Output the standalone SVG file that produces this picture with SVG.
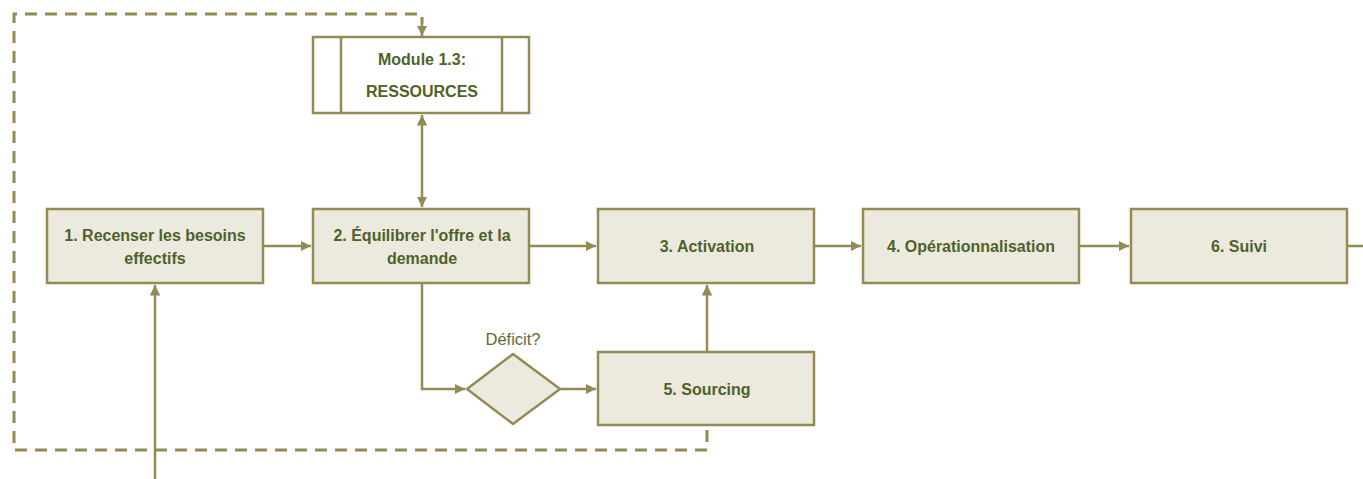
<svg xmlns="http://www.w3.org/2000/svg" width="1363" height="479" viewBox="0 0 1363 479">
  <style>
    .box { fill: #ECE9DF; stroke: #948A54; stroke-width: 2.5; }
    .plain { fill: #FFFFFF; stroke: #948A54; stroke-width: 2.5; }
    .lbl { font-family: "Liberation Sans", Arial, sans-serif; font-weight: bold; font-size: 16px; fill: #4F6228; text-anchor: middle; }
    .note { font-family: "Liberation Sans", Arial, sans-serif; font-size: 16.5px; fill: #5E6B3C; text-anchor: middle; }
    .conn { fill: none; stroke: #948A54; stroke-width: 2.5; }
    .dash { fill: none; stroke: #948A54; stroke-width: 3; stroke-dasharray: 12 8; }
  </style>
  <defs>
    <marker id="arr" viewBox="0 0 10 10" refX="10" refY="5" markerWidth="4.2" markerHeight="4.2" orient="auto-start-reverse" markerUnits="strokeWidth">
      <path d="M0,0 L10,5 L0,10 z" fill="#948A54"/>
    </marker>
  </defs>
  <rect width="1363" height="479" fill="#FFFFFF"/>

  <g id="connectors">
    <path class="dash" d="M707,430 V450 H14 V14 H422 V24"/>
    <path class="conn" d="M422,24 V36" marker-end="url(#arr)"/>
    <path class="conn" d="M422,115 V207" marker-start="url(#arr)" marker-end="url(#arr)"/>
    <path class="conn" d="M263,246 H311" marker-end="url(#arr)"/>
    <path class="conn" d="M529,246 H596" marker-end="url(#arr)"/>
    <path class="conn" d="M814,246 H861" marker-end="url(#arr)"/>
    <path class="conn" d="M1079,246 H1129" marker-end="url(#arr)"/>
    <path class="conn" d="M1347,246 H1363"/>
    <path class="conn" d="M155,479 V285" marker-end="url(#arr)"/>
    <path class="conn" d="M422,283 V389 H465" marker-end="url(#arr)"/>
    <path class="conn" d="M560,389 H596" marker-end="url(#arr)"/>
    <path class="conn" d="M707,352 V285" marker-end="url(#arr)"/>
  </g>

  <g id="module">
    <rect class="plain" x="313" y="37" width="216" height="76"/>
    <line class="conn" x1="341" y1="37" x2="341" y2="113"/>
    <line class="conn" x1="502" y1="37" x2="502" y2="113"/>
    <text class="lbl" x="422" y="65">Module 1.3:</text>
    <text class="lbl" x="422" y="97">RESSOURCES</text>
  </g>

  <g id="step1">
    <rect class="box" x="47" y="209" width="216" height="74"/>
    <text class="lbl" x="155" y="241">1. Recenser les besoins</text>
    <text class="lbl" x="155" y="264">effectifs</text>
  </g>

  <g id="step2">
    <rect class="box" x="313" y="209" width="216" height="74"/>
    <text class="lbl" x="422" y="241">2. Équilibrer l'offre et la</text>
    <text class="lbl" x="422" y="264">demande</text>
  </g>

  <g id="step3">
    <rect class="box" x="598" y="209" width="216" height="74"/>
    <text class="lbl" x="707" y="252">3. Activation</text>
  </g>

  <g id="step4">
    <rect class="box" x="863" y="209" width="216" height="74"/>
    <text class="lbl" x="971" y="252">4. Opérationnalisation</text>
  </g>

  <g id="step6">
    <rect class="box" x="1131" y="209" width="216" height="74"/>
    <text class="lbl" x="1239" y="252">6. Suivi</text>
  </g>

  <g id="deficit">
    <polygon class="box" points="513,354 560,389 513,424 467,389"/>
    <text class="note" x="513" y="345">Déficit?</text>
  </g>

  <g id="step5">
    <rect class="box" x="598" y="352" width="216" height="73"/>
    <text class="lbl" x="707" y="395">5. Sourcing</text>
  </g>
</svg>
